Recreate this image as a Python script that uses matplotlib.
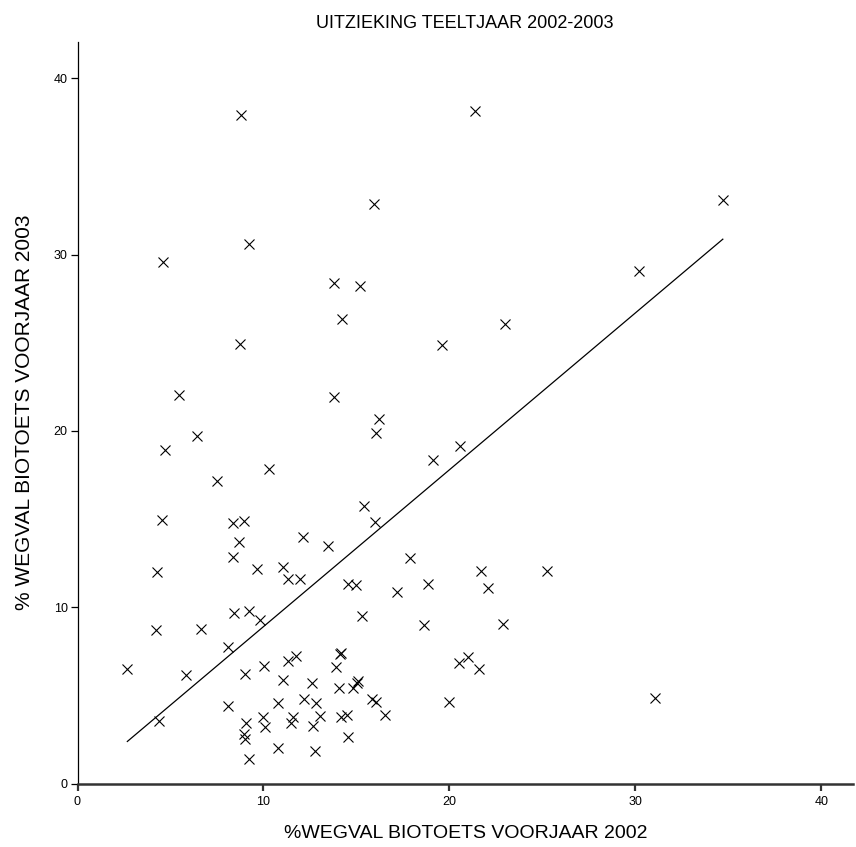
import numpy as np
import matplotlib
matplotlib.use("Agg")
import matplotlib.pyplot as plt

plt.rcParams['font.family'] = ['Liberation Sans', 'DejaVu Sans']

# % wegval biotoets voorjaar 2002 (x) en voorjaar 2003 (y) per partij
wegval_2002 = [
    8.77, 21.35, 15.96, 9.22, 4.61, 13.77, 15.19, 14.20, 8.74, 5.47,
    13.80, 16.23, 16.05, 6.44, 4.70, 10.28, 7.50, 15.38, 4.56, 8.38,
    8.95, 16.01, 8.66, 12.10, 13.45, 8.36, 4.26, 9.63, 11.03, 11.30,
    11.98, 8.43, 9.20, 9.81, 4.22, 6.66, 8.11, 2.68, 5.83, 9.02,
    10.04, 11.30, 11.75, 11.07, 12.62, 4.40, 8.11, 10.76, 12.18, 12.82,
    9.06, 9.96, 10.08, 11.57, 11.48, 12.64, 8.95, 8.99, 10.80, 12.77,
    9.20, 17.88, 21.68, 25.22, 22.05, 14.56, 14.97, 17.16, 18.83, 15.28,
    18.63, 22.86, 14.10, 14.15, 13.88, 20.49, 21.01, 21.59, 14.04, 14.83,
    15.04, 15.10, 15.82, 16.05, 19.99, 13.04, 14.15, 14.47, 16.53, 14.56,
    30.20, 34.70, 23.00, 19.60, 19.10, 20.55, 31.05,
]
wegval_2003 = [
    37.90, 38.16, 32.86, 30.59, 29.57, 28.38, 28.25, 26.37, 24.92, 22.03,
    21.91, 20.66, 19.90, 19.72, 18.92, 17.86, 17.16, 15.76, 14.95, 14.80,
    14.91, 14.84, 13.68, 13.97, 13.48, 12.83, 11.98, 12.15, 12.30, 11.58,
    11.58, 9.67, 9.80, 9.26, 8.69, 8.77, 7.76, 6.48, 6.14, 6.21,
    6.67, 6.93, 7.25, 5.87, 5.72, 3.53, 4.42, 4.55, 4.78, 4.59,
    3.45, 3.79, 3.22, 3.79, 3.45, 3.28, 2.81, 2.51, 2.00, 1.86,
    1.37, 12.81, 12.07, 12.07, 11.07, 11.32, 11.26, 10.85, 11.32, 9.49,
    8.97, 9.03, 7.35, 7.40, 6.63, 6.82, 7.20, 6.48, 5.42, 5.42,
    5.72, 5.80, 4.78, 4.64, 4.62, 3.85, 3.75, 3.89, 3.89, 2.66,
    29.10, 33.10, 26.06, 24.90, 18.35, 19.15, 4.85,
]

# regressielijn
fit_slope = 0.89
fit_intercept = 0.0

x_ticks = [0, 10, 20, 30, 40]
y_ticks = [0, 10, 20, 30, 40]

fig = plt.figure(figsize=(8.56, 8.47), dpi=100)
ax = fig.add_axes([77.5 / 856, 63.5 / 847, (853 - 77.5) / 856, (783.5 - 42) / 847])

ax.plot(wegval_2002, wegval_2003, linestyle='none', marker='x', color='black',
        markersize=7, markeredgewidth=0.8)

x_fit = np.array([min(wegval_2002), max(wegval_2002)])
ax.plot(x_fit, fit_slope * x_fit + fit_intercept, color='black', linewidth=0.9)

ax.set_xlim(0, 41.7)
ax.set_ylim(0, 42.07)
ax.set_xticks(x_ticks)
ax.set_yticks(y_ticks)

ax.spines['top'].set_visible(False)
ax.spines['right'].set_visible(False)
ax.spines['bottom'].set_linewidth(1.8)
ax.spines['bottom'].set_color('#333333')
ax.spines['left'].set_linewidth(0.9)

ax.tick_params(axis='x', direction='out', length=5, width=1.6, color='#333333',
               labelsize=9, pad=4)
ax.tick_params(axis='y', direction='out', length=5, width=0.9, labelsize=9, pad=2)
for lab in ax.get_xticklabels():
    lab.set_fontstretch('condensed')

ax.set_title('UITZIEKING TEELTJAAR 2002-2003', fontsize=13, pad=10)
ax.set_xlabel('%WEGVAL BIOTOETS VOORJAAR 2002', fontsize=14, labelpad=12)
ax.set_ylabel('% WEGVAL BIOTOETS VOORJAAR 2003', fontsize=15, labelpad=14)

fig.savefig('out.png', dpi=100)
